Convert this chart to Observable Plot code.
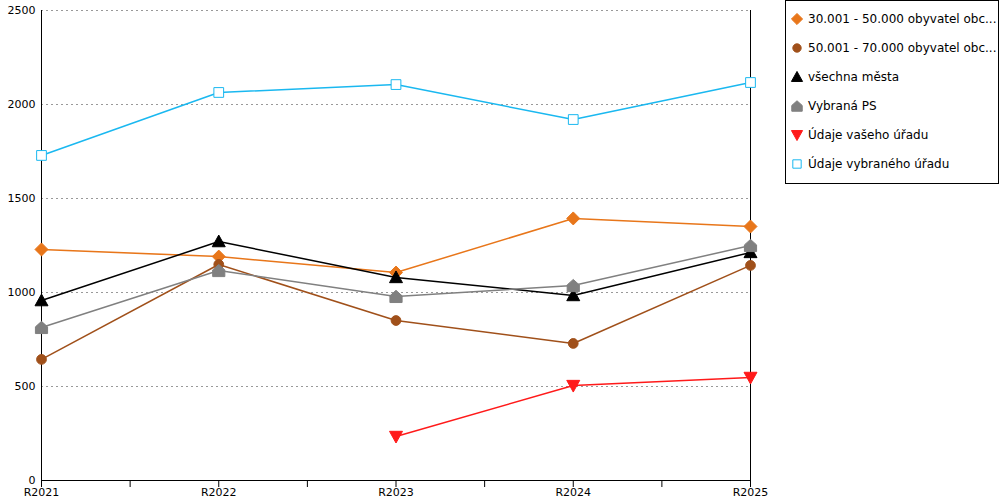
<!DOCTYPE html>
<html><head><meta charset="utf-8">
<script src="https://cdn.jsdelivr.net/npm/d3@7"></script>
<script src="https://cdn.jsdelivr.net/npm/@observablehq/plot@0.6"></script>
<style>
body{margin:0;font-family:"DejaVu Sans",sans-serif;}
#wrap{position:relative;width:1000px;height:500px;}
#legend{position:absolute;left:785px;top:0;width:214px;height:184px;border:1px solid #000;box-sizing:border-box;font-size:12px;}
#legend div{position:absolute;left:4px;display:flex;align-items:center;gap:4px;white-space:nowrap;}
</style></head><body>
<div id="wrap"><div id="chart"></div><div id="legend"></div></div>
<script>
const years = ["R2021","R2022","R2023","R2024","R2025"];
const seriesNames = ["30.001 - 50.000 obyvatel obc...","50.001 - 70.000 obyvatel obc...","všechna města","Vybraná PS","Údaje vašeho úřadu","Údaje vybraného úřadu"];
const orangeVals = [1229,1191,1106,1394,1351];
const brownVals = [644,1149,851,729,1144];
const blackVals = [957,1271,1080,984,1213];
const grayVals = [814,1117,979,1037,1250];
const redVals = [null,null,234,505,548];
const blueVals = [1729,2064,2106,1920,2117];
const yTicks = [0,500,1000,1500,2000,2500];

const pentagon = {draw(c,s){const r=Math.sqrt(s)/1.6;c.moveTo(0,-r);c.lineTo(r,-r*0.1);c.lineTo(r,r);c.lineTo(-r,r);c.lineTo(-r,-r*0.1);c.closePath();}};
const diamond = {draw(c,s){const r=Math.sqrt(s)/1.5;c.moveTo(0,-r);c.lineTo(r,0);c.lineTo(0,r);c.lineTo(-r,0);c.closePath();}};
const tri = {draw(c,s){const r=Math.sqrt(s)/1.5;c.moveTo(0,-r);c.lineTo(r,r*0.8);c.lineTo(-r,r*0.8);c.closePath();}};
const triDown = {draw(c,s){const r=Math.sqrt(s)/1.5;c.moveTo(0,r);c.lineTo(r,-r*0.8);c.lineTo(-r,-r*0.8);c.closePath();}};
const square = {draw(c,s){const r=Math.sqrt(s)/2;c.rect(-r,-r,2*r,2*r);}};
const circle = {draw(c,s){const r=Math.sqrt(s)/2;c.arc(0,0,r,0,2*Math.PI);}};

const series = [
 {name:seriesNames[0],vals:orangeVals,color:"#e8761a",sym:diamond,fill:true},
 {name:seriesNames[1],vals:brownVals,color:"#a0501a",sym:circle,fill:true},
 {name:seriesNames[2],vals:blackVals,color:"#000000",sym:tri,fill:true},
 {name:seriesNames[3],vals:grayVals,color:"#808080",sym:pentagon,fill:true},
 {name:seriesNames[4],vals:redVals,color:"#ff1a1a",sym:triDown,fill:true},
 {name:seriesNames[5],vals:blueVals,color:"#1ab8f0",sym:square,fill:false}
];
const marks = [
 Plot.gridY(yTicks.slice(1),{stroke:"#999",strokeDasharray:"2,3",strokeOpacity:1}),
 Plot.ruleX([0],{stroke:"#000"}),
 Plot.ruleX([4],{stroke:"#000"}),
 Plot.ruleY([0],{stroke:"#000"}),
];
for(const s of series){
 const data = s.vals.map((v,i)=>({i,v})).filter(d=>d.v!=null);
 marks.push(Plot.line(data,{x:"i",y:"v",stroke:s.color,strokeWidth:1.5}));
 marks.push(Plot.dot(data,{x:"i",y:"v",symbol:()=>s.sym,r:5.5,fill:s.fill?s.color:"white",stroke:s.color,strokeWidth:1}));
}
marks.push(Plot.axisX(d3.range(0,4.01,0.5),{tickSize:7,tickFormat:()=>"",label:null}));
marks.push(Plot.axisX([0,1,2,3,4],{tickSize:0,tickPadding:8,tickFormat:i=>years[i],fontSize:11,label:null}));
marks.push(Plot.axisY(yTicks,{tickSize:0,tickPadding:6,fontSize:11,tickFormat:d3.format("d"),label:null}));
const chart = Plot.plot({
 width:1000,height:500,marginLeft:41,marginRight:250,marginTop:10,marginBottom:20,
 style:{fontFamily:"DejaVu Sans",fontSize:"11px",color:"#000"},
 x:{domain:[0,4],type:"linear"},
 y:{domain:[0,2500]},
 symbol:{type:"identity"},
 marks
});
document.getElementById("chart").appendChild(chart);
const leg = document.getElementById("legend");
series.forEach((s,k)=>{
 const d=document.createElement("div");d.style.top=(11+k*29)+"px";
 const sv=d3.create("svg").attr("width",14).attr("height",14);
 sv.append("path").attr("transform","translate(7,7)").attr("d",d3.symbol(s.sym,70)()).attr("fill",s.fill?s.color:"white").attr("stroke",s.color);
 d.appendChild(sv.node());
 const t=document.createElement("span");t.textContent=s.name;d.appendChild(t);
 leg.appendChild(d);
});
</script></body></html>
